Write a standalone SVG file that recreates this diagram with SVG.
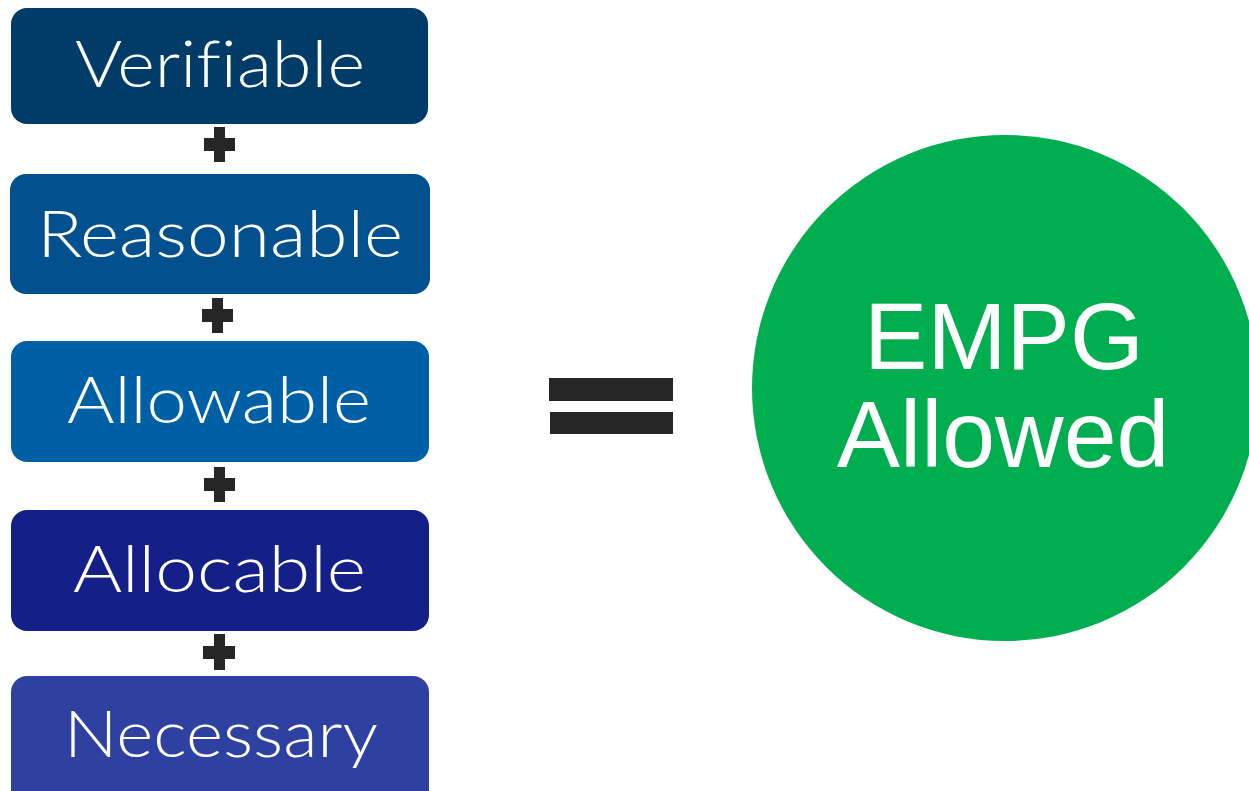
<svg xmlns="http://www.w3.org/2000/svg" width="1249" height="791" viewBox="0 0 1249 791">
<style>
.box text{font-family:"Lato","DejaVu Sans",sans-serif;font-size:65px;fill:#fff;font-weight:300;font-variant-ligatures:none;font-feature-settings:"liga" 0}
.plus{fill:#262626}
.circ text{font-family:"Liberation Sans",Arial,sans-serif;font-size:95px;fill:#fff;text-anchor:middle}
</style>
<rect width="1249" height="791" fill="#fff"/>
<g id="verifiable" class="box">
<rect x="11" y="8" width="417" height="116" rx="16" fill="#013b67"/>
<text x="75" y="87" textLength="290" lengthAdjust="spacingAndGlyphs">Verifiable</text>
</g>
<g id="reasonable" class="box">
<rect x="10" y="174" width="420" height="120" rx="16" fill="#02508e"/>
<text x="37" y="257" textLength="366" lengthAdjust="spacingAndGlyphs">Reasonable</text>
</g>
<g id="allowable" class="box">
<rect x="11" y="341" width="418" height="121" rx="16" fill="#0060a6"/>
<text x="67" y="423" textLength="304" lengthAdjust="spacingAndGlyphs">Allowable</text>
</g>
<g id="allocable" class="box">
<rect x="11" y="510" width="418" height="121" rx="16" fill="#141f87"/>
<text x="73" y="592" textLength="293" lengthAdjust="spacingAndGlyphs">Allocable</text>
</g>
<g id="necessary" class="box">
<rect x="11" y="676" width="418" height="140" rx="16" fill="#2f41a0"/>
<text x="64" y="757" textLength="314" lengthAdjust="spacingAndGlyphs">Necessary</text>
</g>
<g id="connectors">
<g class="plus">
<rect x="204" y="138" width="31" height="13"/><rect x="214" y="127" width="11" height="35"/>
<rect x="202" y="309" width="31" height="13"/><rect x="212" y="298" width="11" height="35"/>
<rect x="204" y="478" width="31" height="13"/><rect x="214" y="467" width="11" height="35"/>
<rect x="203" y="646" width="32" height="13"/><rect x="214" y="634" width="11" height="36"/>
</g>
<g class="plus">
<rect x="549" y="378" width="124" height="23"/>
<rect x="550" y="412" width="123" height="22"/>
</g>
</g>
<g id="empg" class="circ">
<circle cx="1005" cy="388" r="253" fill="#00ae4f"/>
<text x="1004" y="369">EMPG</text>
<text x="1003" y="467">Allowed</text>
</g>
</svg>
